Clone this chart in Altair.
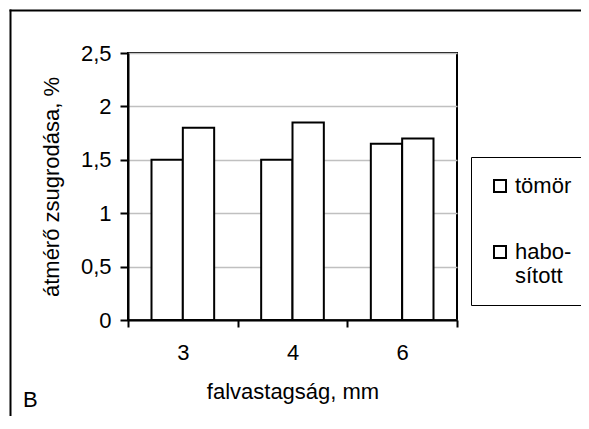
import altair as alt
import pandas as pd

categories = ["3", "4", "6"]
series = ["tömör", "habosított"]
tomor = [1.5, 1.5, 1.65]
habositott = [1.8, 1.85, 1.7]
y_ticks = [0, 0.5, 1, 1.5, 2, 2.5]

rows = []
for i, c in enumerate(categories):
    rows.append({"cat": c, "series": series[0], "val": tomor[i]})
    rows.append({"cat": c, "series": series[1], "val": habositott[i]})
df = pd.DataFrame(rows)

FONT = "Liberation Sans"
FS = 22
W, H = 329, 267
PAD_BOTTOM = 96
PAD_RIGHT = 124

bars = alt.Chart(df).mark_bar(stroke="black", strokeWidth=2, fill="white").encode(
    x=alt.X("cat:N", sort=categories,
            scale=alt.Scale(paddingInner=0, paddingOuter=0),
            axis=alt.Axis(title="falvastagság, mm", labelAngle=0, tickBand="extent",
                          tickSize=7, labelPadding=15, titleY=71, titleBaseline="middle",
                          domainColor="black", domainWidth=2, tickColor="black",
                          tickWidth=2, grid=False)),
    xOffset=alt.XOffset("series:N", sort=series,
                        scale=alt.Scale(paddingInner=0, paddingOuter=0.75)),
    y=alt.Y("val:Q", scale=alt.Scale(domain=[0, 2.5], nice=False),
            axis=alt.Axis(title="átmérő zsugrodása, %", values=y_ticks, format=".1~f",
                          labelExpr="replace(datum.label, '.', ',')",
                          tickSize=8, labelPadding=9, grid=True, gridColor="#c0c0c0",
                          gridWidth=1.5, domainColor="black", domainWidth=2,
                          tickColor="black", tickWidth=2,
                          titleAngle=270, titleX=-77, titleY=H / 2,
                          titleBaseline="middle", titleAlign="center")),
    color=alt.Color("series:N", sort=series,
                    scale=alt.Scale(domain=series, range=["white", "white"]),
                    legend=alt.Legend(title=None, orient="none", legendX=343, legendY=104,
                                      padding=18, strokeColor="black", fillColor="white",
                                      symbolType="square", symbolSize=144,
                                      symbolStrokeColor="black", symbolStrokeWidth=2,
                                      symbolFillColor="white",
                                      labelExpr="datum.label == 'habosított' ? ['habo-', 'sított'] : datum.label",
                                      labelOffset=4, rowPadding=44,
                                      labelFont=FONT, labelFontSize=FS, labelColor="black",
                                      labelLimit=200)),
)

b_label = alt.Chart(pd.DataFrame({"t": ["B"]})).mark_text(
    font=FONT, fontSize=FS, color="black", align="left", baseline="middle"
).encode(text="t:N", x=alt.value(-105), y=alt.value(347))

top_line = alt.Chart(pd.DataFrame({"t": [0]})).mark_rule(
    stroke="black", strokeWidth=2
).encode(x=alt.value(-118.5), x2=alt.value(W + PAD_RIGHT), y=alt.value(-42.5))

left_line = alt.Chart(pd.DataFrame({"t": [0]})).mark_rule(
    stroke="black", strokeWidth=2
).encode(x=alt.value(-117.5), y=alt.value(-43.5), y2=alt.value(H + PAD_BOTTOM))

chart = alt.layer(bars, b_label, top_line, left_line).properties(
    width=W, height=H,
    autosize=alt.AutoSizeParams(type="none"),
    padding={"left": 120, "top": 45, "right": PAD_RIGHT, "bottom": PAD_BOTTOM},
).configure(background="white").configure_view(stroke="black", strokeWidth=2).configure_axis(
    labelFont=FONT, titleFont=FONT, labelFontSize=FS, titleFontSize=FS,
    labelColor="black", titleColor="black", titleFontWeight="normal"
)

chart.save("out.html", embed_options={"renderer": "svg", "actions": False})
